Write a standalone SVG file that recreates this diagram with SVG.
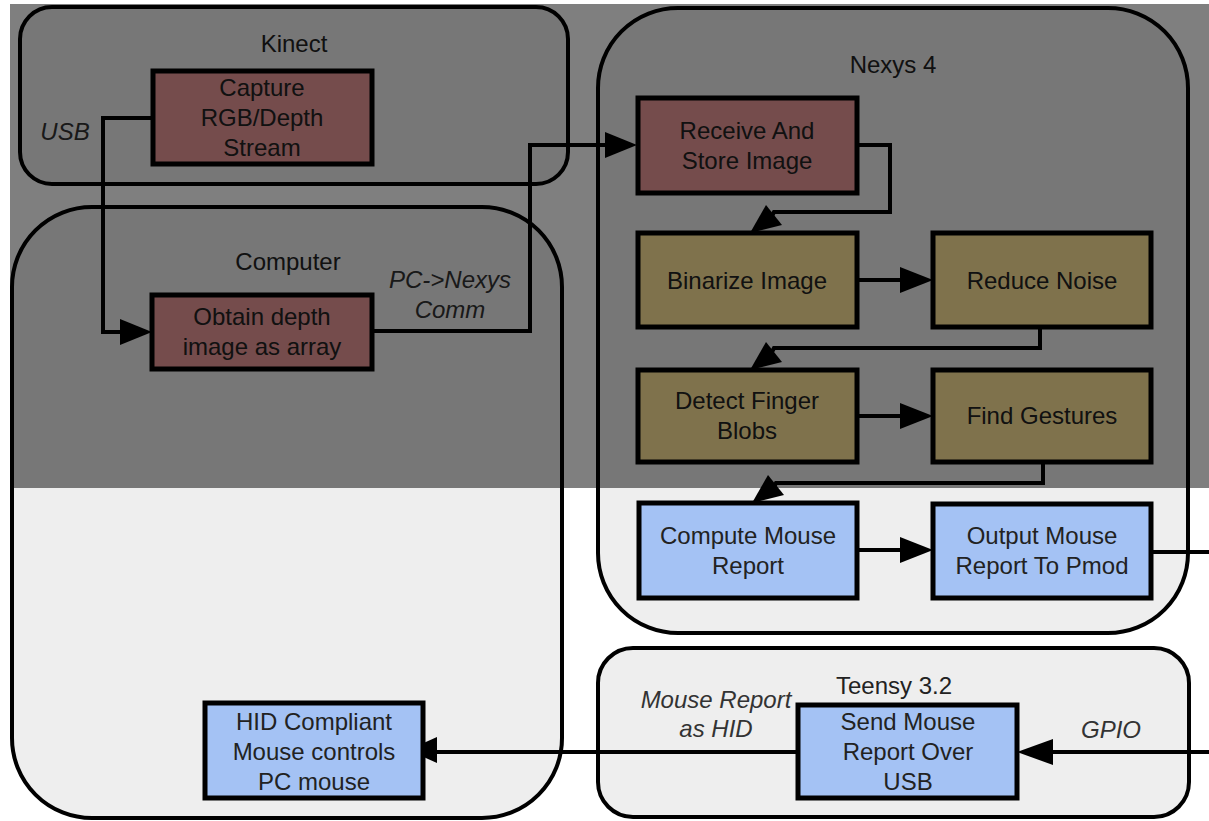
<svg xmlns="http://www.w3.org/2000/svg" width="1209" height="821" viewBox="0 0 1209 821">
<defs>
<style>
.cont{fill:#eeeeee;stroke:#000;stroke-width:4}
.box{stroke:#000;stroke-width:5}
.red{fill:#ea9999}
.yel{fill:#ffe599}
.blu{fill:#a4c2f4}
.t{font-family:"Liberation Sans",Arial,sans-serif;font-size:24px;fill:#222;text-anchor:middle}
.it{font-style:italic;fill:#333}
.ln{fill:none;stroke:#000;stroke-width:4;stroke-linejoin:miter}
.ah{fill:#000}
</style>
</defs>
<rect width="1209" height="821" fill="#fff"/>
<g id="kinect">
<rect class="cont" x="20" y="7" width="548" height="177" rx="32"/>
<text class="t" x="294" y="52">Kinect</text>
</g>
<g id="computer">
<rect class="cont" x="12" y="207" width="550" height="611" rx="80"/>
<text class="t" x="288" y="270">Computer</text>
</g>
<g id="nexys4">
<rect class="cont" x="598" y="8" width="590" height="625" rx="80"/>
<text class="t" x="893" y="73">Nexys 4</text>
</g>
<g id="teensy">
<rect class="cont" x="598" y="648" width="591" height="169" rx="35"/>
<text class="t" x="894" y="694">Teensy 3.2</text>
</g>
<g id="connectors">
<path class="ln" d="M153,118 H103 V332 H122"/>
<polygon class="ah" points="152,332 120,319 120,345"/>
<path class="ln" d="M372,331 H530 V145 H607"/>
<polygon class="ah" points="637,145 605,132 605,158"/>
<path class="ln" d="M857,145 H890 V212 H774 L772,216"/>
<polygon class="ah" points="750,233 766,205 782,225"/>
<path class="ln" d="M857,280 H903"/>
<polygon class="ah" points="933,280 900,267 900,293"/>
<path class="ln" d="M1040,327 V348 H774 L772,352"/>
<polygon class="ah" points="750,370 766,342 782,362"/>
<path class="ln" d="M857,416 H903"/>
<polygon class="ah" points="933,416 900,403 900,429"/>
<path class="ln" d="M1043,462 V483 H776 L774,487"/>
<polygon class="ah" points="752,503 768,475 784,495"/>
<path class="ln" d="M857,550 H903"/>
<polygon class="ah" points="933,550 900,537 900,563"/>
<path class="ln" d="M1151,552 H1209"/>
<path class="ln" d="M1209,752 H1047"/>
<polygon class="ah" points="1017,752 1053,739 1053,765"/>
<path class="ln" d="M798,752 H430"/>
<polygon class="ah" points="408,750 437,737 437,763"/>
<text class="t it" x="65" y="140">USB</text>
<text class="t it" x="450" y="288">PC-&gt;Nexys</text>
<text class="t it" x="450" y="318">Comm</text>
<text class="t it" x="716" y="708">Mouse Report</text>
<text class="t it" x="716" y="737">as HID</text>
<text class="t it" x="1111" y="738">GPIO</text>
</g>
<g id="capture">
<rect class="box red" x="153" y="71" width="219" height="93"/>
<text class="t" x="262" y="96">Capture</text>
<text class="t" x="262" y="126">RGB/Depth</text>
<text class="t" x="262" y="156">Stream</text>
</g>
<g id="obtain">
<rect class="box red" x="152" y="295" width="220" height="74"/>
<text class="t" x="262" y="325">Obtain depth</text>
<text class="t" x="262" y="355">image as array</text>
</g>
<g id="receive">
<rect class="box red" x="638" y="98" width="219" height="95"/>
<text class="t" x="747" y="139">Receive And</text>
<text class="t" x="747" y="169">Store Image</text>
</g>
<g id="binarize">
<rect class="box yel" x="638" y="233" width="219" height="94"/>
<text class="t" x="747" y="289">Binarize Image</text>
</g>
<g id="reduce">
<rect class="box yel" x="933" y="233" width="218" height="94"/>
<text class="t" x="1042" y="289">Reduce Noise</text>
</g>
<g id="detect">
<rect class="box yel" x="638" y="370" width="219" height="92"/>
<text class="t" x="747" y="409">Detect Finger</text>
<text class="t" x="747" y="439">Blobs</text>
</g>
<g id="find">
<rect class="box yel" x="933" y="370" width="218" height="92"/>
<text class="t" x="1042" y="424">Find Gestures</text>
</g>
<g id="compute">
<rect class="box blu" x="639" y="503" width="218" height="95"/>
<text class="t" x="748" y="544">Compute Mouse</text>
<text class="t" x="748" y="574">Report</text>
</g>
<g id="output">
<rect class="box blu" x="933" y="504" width="218" height="94"/>
<text class="t" x="1042" y="544">Output Mouse</text>
<text class="t" x="1042" y="574">Report To Pmod</text>
</g>
<g id="send">
<rect class="box blu" x="798" y="705" width="219" height="93"/>
<text class="t" x="908" y="730">Send Mouse</text>
<text class="t" x="908" y="760">Report Over</text>
<text class="t" x="908" y="790">USB</text>
</g>
<g id="hid">
<rect class="box blu" x="205" y="703" width="218" height="95"/>
<text class="t" x="314" y="730">HID Compliant</text>
<text class="t" x="314" y="760">Mouse controls</text>
<text class="t" x="314" y="790">PC mouse</text>
</g>
<rect x="10" y="4" width="1199" height="484" fill="#000" fill-opacity="0.5"/>
</svg>
